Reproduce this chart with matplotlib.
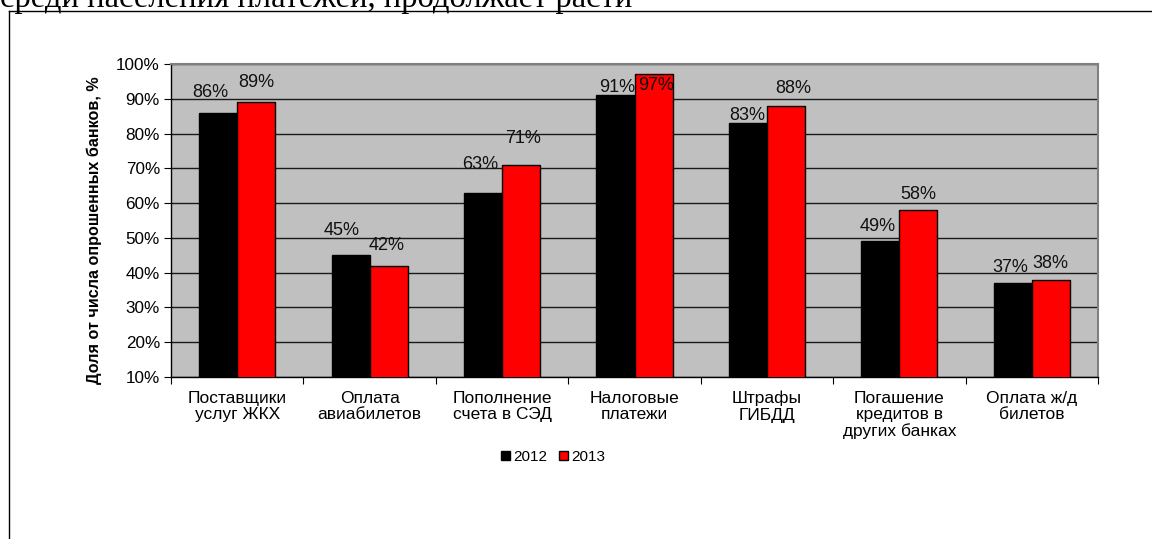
import matplotlib
matplotlib.use("Agg")
import matplotlib.pyplot as plt
from matplotlib.patches import Patch
from matplotlib.lines import Line2D
import numpy as np

plt.rcParams['font.family'] = ['Liberation Sans', 'DejaVu Sans']

# --- data -------------------------------------------------------------
categories = [
    "Поставщики\nуслуг ЖКХ",
    "Оплата\nавиабилетов",
    "Пополнение\nсчета в СЭД",
    "Налоговые\nплатежи",
    "Штрафы\nГИБДД",
    "Погашение\nкредитов в\nдругих банках",
    "Оплата ж/д\nбилетов",
]
values_2012 = [86, 45, 63, 91, 83, 49, 37]
values_2013 = [89, 42, 71, 97, 88, 58, 38]
series_names = ["2012", "2013"]
y_ticks = [10, 20, 30, 40, 50, 60, 70, 80, 90, 100]

# label placement (pixel offsets of the label centre from the bar top)
label_offsets_2012 = [(-8, 20), (-9, 25), (-3, 28), (2, 8), (-1, 8), (-3, 15), (-3, 16)]
label_offsets_2013 = [(0, 20), (-2, 20), (2, 26), (3, -11), (7, 17), (0, 16), (0, 16)]

W, H, DPI = 1152, 539, 100
fig = plt.figure(figsize=(W / DPI, H / DPI), dpi=DPI)
fig.patch.set_facecolor("white")

# heading line of the surrounding document, partly cut off at the top
fig.text(0.0, 1 - 7.5 / H, "среди населения платежей, продолжает расти",
         fontsize=23.5, family="Liberation Serif", ha="left", va="baseline",
         color="black")

# frame around the chart object
fy = 1 - 11 / H
fig.add_artist(Line2D([8.5 / W, 8.5 / W], [0, fy], color="black", lw=1.0,
                      transform=fig.transFigure))
fig.add_artist(Line2D([8.5 / W, 1.0], [fy, fy], color="black", lw=1.0,
                      transform=fig.transFigure))

left, right, top, bottom = 171, 1098, 64, 377
ax = fig.add_axes([left / W, 1 - bottom / H, (right - left) / W, (bottom - top) / H])
ax.set_facecolor("#c0c0c0")

x = np.arange(len(categories))
bw = 0.287
bars12 = ax.bar(x - bw / 2, values_2012, bw, color="black", edgecolor="black",
                linewidth=1.0, zorder=3, label=series_names[0])
bars13 = ax.bar(x + bw / 2, values_2013, bw, color="#ff0000", edgecolor="black",
                linewidth=1.0, zorder=3, label=series_names[1])

ax.set_ylim(10, 100)
ax.set_xlim(-0.5, len(categories) - 0.5)
ax.set_yticks(y_ticks)
ax.set_yticklabels([f"{t}%" for t in y_ticks], fontsize=12.3)
ax.yaxis.grid(True, color="#1a1a1a", linewidth=1.0, zorder=1)
ax.set_axisbelow(True)

# category ticks sit between groups
ax.set_xticks(np.arange(-0.5, len(categories), 1.0))
ax.set_xticklabels([])
ax.set_xticks(x, minor=True)
ax.set_xticklabels(categories, minor=True, fontsize=12.5, linespacing=1.1)
ax.tick_params(axis="x", which="minor", length=0, pad=10)
ax.tick_params(axis="x", which="major", length=5, direction="out", color="black")
ax.tick_params(axis="y", length=5, direction="out", color="black", pad=3)

for side in ("top", "right"):
    ax.spines[side].set_color("#808080")
    ax.spines[side].set_linewidth(1.5)
for side in ("left", "bottom"):
    ax.spines[side].set_color("black")
    ax.spines[side].set_linewidth(1.0)

ax.set_ylabel("Доля от числа опрошенных банков, %", fontsize=11.6, fontweight="bold",
              labelpad=10)
ax.yaxis.set_label_coords(-69 / (right - left), 0.47)

for bars, vals, offs in ((bars12, values_2012, label_offsets_2012),
                         (bars13, values_2013, label_offsets_2013)):
    for b, v, (dx, dy) in zip(bars, vals, offs):
        ax.annotate(f"{v}%", (b.get_x() + b.get_width() / 2, v),
                    xytext=(dx, dy), textcoords="offset pixels",
                    ha="center", va="center", fontsize=13, color="#111111",
                    zorder=5, annotation_clip=False)

handles = [Patch(facecolor="black", edgecolor="black"),
           Patch(facecolor="#ff0000", edgecolor="black")]
fig.legend(handles, series_names, loc="center", bbox_to_anchor=(553 / W, 1 - 457 / H),
           ncol=2, frameon=False, fontsize=11, handlelength=0.6, handleheight=0.6,
           handletextpad=0.2, columnspacing=0.8)

fig.savefig("out.png", dpi=DPI)
